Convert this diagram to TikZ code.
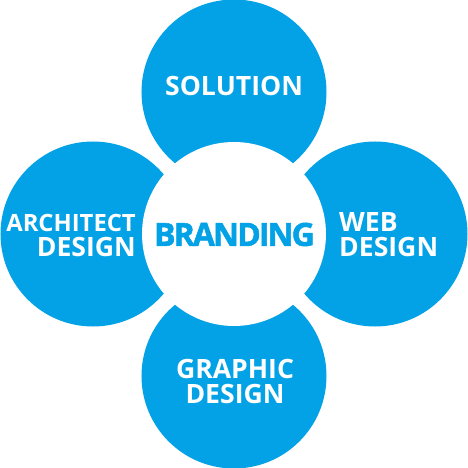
\documentclass[tikz,border=0pt]{standalone}
\usepackage{fontspec}
\setmainfont{Open Sans}
\usepackage{tikz}
\usetikzlibrary{positioning}
\definecolor{brandblue}{RGB}{3,161,230}

\begin{document}
\begin{tikzpicture}[
        petal/.style={circle, fill=brandblue, minimum size=185pt, inner sep=0pt},
        hub/.style={circle, fill=white, minimum size=184pt, inner sep=0pt},
        word/.style={text=white, inner sep=0pt, font=\bfseries\fontsize{26.6}{25}\selectfont},
        brand/.style={text=brandblue, inner sep=0pt, font=\bfseries\fontsize{32}{32}\selectfont\addfontfeature{FakeBold=1.6, LetterSpace=-6}}
      ]
        \useasboundingbox (-234pt,-234pt) rectangle (234pt,234pt);

        \coordinate (mid) at (0,0);
        \node[petal]  (solution)  [above of=mid, node distance=142pt]  {};
        \node[petal]  (architect) [left of=mid, node distance=141pt]   {};
        \node[petal]  (web)       [right of=mid, node distance=141pt]  {};
        \node[petal]  (graphic)   [below of=mid, node distance=142pt]  {};
        \node[hub]    (hub)       at (mid)                             {};

        \node[word]   (soltext)   at ([yshift=6.5pt]solution.center)   {SOLUTION};
        \node[word, align=right, anchor=east] (archtext) at ([xshift=43pt, yshift=-2pt]architect.center)
              {{\fontsize{23.8}{25}\selectfont ARCHITECT}\\DESIGN};
        \node[word, align=left, anchor=west]  (webtext)  at ([xshift=-36pt, yshift=-0.5pt]web.center)
              {WEB\\DESIGN};
        \node[word, align=center] (graphtext) at ([xshift=1pt, yshift=-5pt]graphic.center)
              {GRAPHIC\\DESIGN};
        \node[brand]  (brandtext) at ([xshift=0.5pt, yshift=-0.5pt]hub.center) {BRANDING};
      \end{tikzpicture}
\end{document}
